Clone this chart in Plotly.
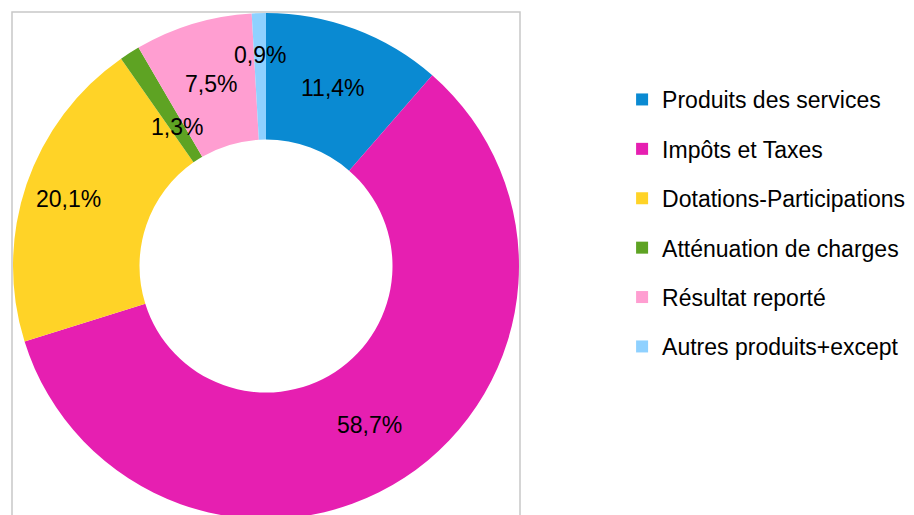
import math
import plotly.graph_objects as go

categories = ["Produits des services", "Impôts et Taxes", "Dotations-Participations",
              "Atténuation de charges", "Résultat reporté", "Autres produits+except"]
values = [11.4, 58.7, 20.1, 1.3, 7.5, 0.9]
colors = ["#0A8AD2", "#E61FB1", "#FFD327", "#5EA323", "#FF9ED1", "#8FD1FF"]

W, H = 914, 515
# page body adds an 8px offset; geometry below is in figure pixels
cx, cy, r = 258, 258, 253
hole = 0.5
FONT = "Liberation Sans, Arial"

fig = go.Figure()
fig.add_trace(go.Pie(
    labels=categories, values=values, sort=False, direction="clockwise", rotation=0,
    hole=hole, marker=dict(colors=colors, line=dict(width=0)),
    textinfo="none", showlegend=False, hoverinfo="label+value",
    domain=dict(x=[(cx - r) / W, (cx + r) / W], y=[(H - cy - r) / H, (H - cy + r) / H]),
))

# data labels: placed at the middle of the ring, at each slice's mid angle
label_radius_factor = {"Dotations-Participations": 1.1, "Atténuation de charges": 0.87,
                       "Autres produits+except": 1.11}
total = sum(values)
r_mid = (r * hole + r) / 2
cum = 0.0
annotations = []
for name, v in zip(categories, values):
    theta = 2 * math.pi * (cum + v / 2) / total
    cum += v
    rr = r_mid * label_radius_factor.get(name, 1.0)
    px = cx + rr * math.sin(theta)
    py = (H - cy) + rr * math.cos(theta)
    annotations.append(dict(
        x=px / W, y=py / H, xref="paper", yref="paper", showarrow=False,
        text=f"{v:.1f}%".replace(".", ","), xanchor="center", yanchor="middle",
        font=dict(family=FONT, size=23, color="#000000"),
    ))

for name, col in zip(categories, colors):
    fig.add_trace(go.Scatter(
        x=[None], y=[None], mode="markers", name=name, legendgroup=name,
        marker=dict(symbol="square", size=12, color=col, line=dict(width=0)),
    ))

fig.update_layout(
    width=W, height=H, margin=dict(l=0, r=0, t=0, b=0),
    paper_bgcolor="white", plot_bgcolor="white",
    xaxis=dict(visible=False), yaxis=dict(visible=False),
    legend=dict(x=0.685 - 12 / W, y=1 - 70 / H, xanchor="left", yanchor="top",
                font=dict(family=FONT, size=23, color="#000000"),
                tracegroupgap=16.5, itemwidth=30, bgcolor="rgba(0,0,0,0)"),
    annotations=annotations,
    shapes=[dict(type="rect", xref="paper", yref="paper",
                 x0=4 / W, x1=512 / W, y0=-0.05, y1=1 - 4 / H,
                 line=dict(color="#C8C8C8", width=1.5), fillcolor="rgba(0,0,0,0)", layer="below")],
)

fig.write_html("out.html")
